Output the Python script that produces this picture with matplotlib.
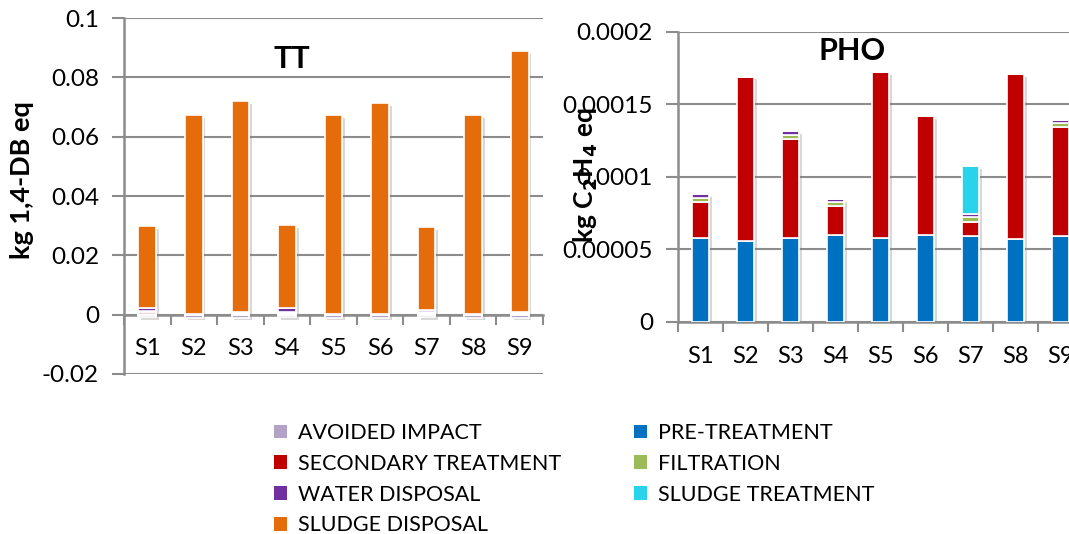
import numpy as np
import matplotlib
matplotlib.use("Agg")
import matplotlib.pyplot as plt
from matplotlib.patches import Patch
from matplotlib.ticker import FuncFormatter
import matplotlib.patheffects as pe

plt.rcParams['font.family'] = ['Lato', 'DejaVu Sans']

scenarios = ["S1", "S2", "S3", "S4", "S5", "S6", "S7", "S8", "S9"]

# TT, kg 1,4-DB eq (values in 1e-3)
tt_avoided = [-0.8, -1.0, -1.0, -0.9, -1.0, -1.0, -0.8, -1.0, -1.0]
tt_pre = [0.3, 0.1, 0.2, 0.2, 0.1, 0.1, 0.2, 0.1, 0.2]
tt_secondary = [0.5, 0.2, 0.3, 0.4, 0.2, 0.2, 0.3, 0.2, 0.3]
tt_filtration = [0.4, 0.0, 0.3, 0.3, 0.0, 0.0, 0.3, 0.0, 0.3]
tt_water = [1.0, 0.0, 0.2, 1.2, 0.0, 0.0, 0.8, 0.0, 0.2]
tt_sludge_treat = [0.0, 0.0, 0.0, 0.0, 0.0, 0.0, 0.0, 0.0, 0.0]
tt_sludge_disp = [27.6, 67.0, 71.0, 28.1, 67.0, 71.1, 27.9, 67.0, 87.8]

# PHO, kg C2H4 eq (values in 1e-5)
pho_avoided = [0, 0, 0, 0, 0, 0, 0, 0, 0]
pho_pre = [5.8, 5.6, 5.8, 6.0, 5.8, 6.0, 5.95, 5.7, 5.9]
pho_secondary = [2.45, 11.3, 6.8, 2.0, 11.4, 8.2, 0.95, 11.4, 7.5]
pho_filtration = [0.3, 0.0, 0.3, 0.25, 0.0, 0.0, 0.3, 0.0, 0.3]
pho_water = [0.25, 0.0, 0.25, 0.2, 0.0, 0.0, 0.25, 0.0, 0.25]
pho_sludge_treat = [0, 0, 0, 0, 0, 0, 3.3, 0, 0]
pho_sludge_disp = [0, 0, 0, 0, 0, 0, 0, 0, 0]

labels = ["AVOIDED IMPACT", "PRE-TREATMENT", "SECONDARY TREATMENT", "FILTRATION",
          "WATER DISPOSAL", "SLUDGE TREATMENT", "SLUDGE DISPOSAL"]
colors = ["#b3a2c7", "#0070c0", "#c00000", "#9bbb59", "#7030a0", "#29d3ec", "#e46c0a"]

grey = "#8c8c8c"


def stacked(ax, scale, avoided, parts, width):
    x = np.arange(len(scenarios))
    neg = np.array(avoided) * scale
    pos_total = np.sum([np.array(p) for p in parts], axis=0) * scale
    # soft shadow behind each stack
    ax.bar(x, pos_total - neg, bottom=neg, width=width, color="white", zorder=2,
           path_effects=[pe.SimplePatchShadow(offset=(2, -2), shadow_rgbFace="0.5", alpha=0.3),
                         pe.Normal()])
    ax.bar(x, neg, width=width, color=colors[0], edgecolor="white", linewidth=1.2, zorder=3)
    bottom = np.zeros(len(x))
    for p, c in zip(parts, colors[1:]):
        v = np.array(p) * scale
        ax.bar(x, v, bottom=bottom, width=width, color=c, edgecolor="white",
               linewidth=1.2, zorder=3)
        bottom = bottom + v
    ax.set_xlim(-0.5, len(x) - 0.5)
    ax.set_xticks(x)
    ax.set_xticklabels(scenarios)
    ax.set_xticks(np.arange(len(x) + 1) - 0.5, minor=True)
    ax.tick_params(axis="x", which="major", length=0, pad=17, labelsize=17)
    ax.tick_params(axis="x", which="minor", length=7, width=1.5, color=grey, direction="out")
    ax.tick_params(axis="y", length=9, width=1.5, color=grey, pad=9, labelsize=17.5)
    ax.grid(axis="y", color=grey, linewidth=1.5, zorder=0)
    ax.set_axisbelow(True)
    for s in ["top", "right"]:
        ax.spines[s].set_visible(False)
    for s in ["left", "bottom"]:
        ax.spines[s].set_color(grey)
        ax.spines[s].set_linewidth(1.8)


def fmt(decimals):
    return FuncFormatter(lambda v, p: f"{v:.{decimals}f}".rstrip("0").rstrip("."))


fig = plt.figure(figsize=(10.69, 5.34), dpi=100)

ax1 = fig.add_axes([124 / 1069, 1 - 374 / 534, 419 / 1069, 356 / 534])
stacked(ax1, 1e-3, tt_avoided,
        [tt_pre, tt_secondary, tt_filtration, tt_water, tt_sludge_treat, tt_sludge_disp], 0.38)
ax1.set_ylim(-0.02, 0.1)
ax1.set_yticks(np.arange(-0.02, 0.1001, 0.02))
ax1.yaxis.set_major_formatter(fmt(2))
ax1.spines["bottom"].set_position(("data", 0))
ax1.text(0.4, 0.885, "TT", transform=ax1.transAxes, ha="center", va="center",
         fontsize=22, fontweight="bold")

ax2 = fig.add_axes([678 / 1069, 1 - 322 / 534, 405 / 1069, 290.3 / 534])
stacked(ax2, 1e-5, pho_avoided,
        [pho_pre, pho_secondary, pho_filtration, pho_water, pho_sludge_treat, pho_sludge_disp], 0.38)
ax2.set_ylim(0, 0.0002)
ax2.set_yticks(np.arange(0, 0.000201, 0.00005))
ax2.yaxis.set_major_formatter(fmt(5))
ax2.text(0.43, 0.935, "PHO", transform=ax2.transAxes, ha="center", va="center",
         fontsize=22, fontweight="bold")

fig.text(22 / 1069, 1 - 180 / 534, "kg 1,4-DB eq", rotation=90, ha="center", va="center",
         fontsize=19.5, fontweight="bold")
fig.text(586 / 1069, 1 - 175 / 534, r"kg C$_\mathbf{2}$H$_\mathbf{4}$ eq", rotation=90,
         ha="center", va="center", fontsize=19, fontweight="bold")

handles = [Patch(facecolor=c, label=l) for c, l in zip(colors, labels)]
order = [0, 2, 4, 6, 1, 3, 5]
fig.legend([handles[i] for i in order], [labels[i] for i in order], ncol=2,
           loc="upper left", bbox_to_anchor=(274 / 1069, 1 - 423 / 534), frameon=False,
           fontsize=15.5, handlelength=0.6, handleheight=0.6, handletextpad=0.5,
           labelspacing=0.5, columnspacing=3.4, borderpad=0, borderaxespad=0)

fig.savefig("out.png", dpi=100)
